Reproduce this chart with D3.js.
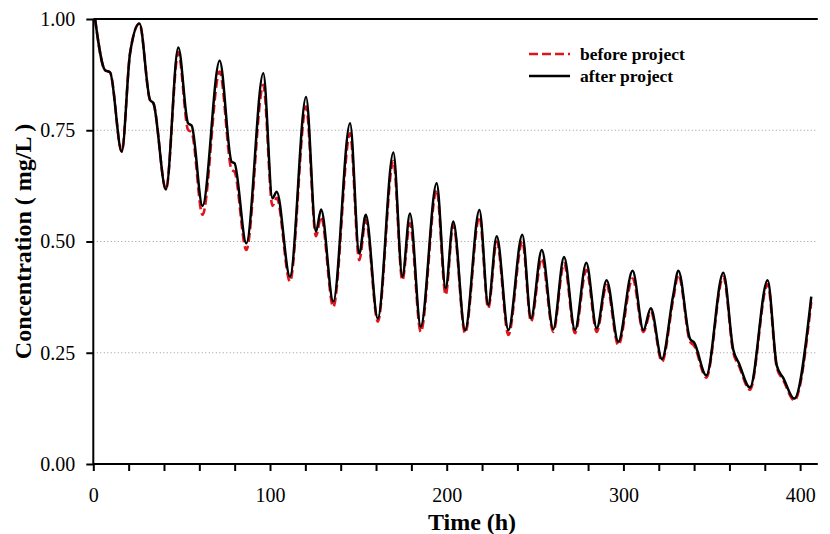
<!DOCTYPE html>
<meta charset="utf-8">
<style>
    body { margin: 0; background: #fff; }
    svg { font-family: "Liberation Serif", "Times New Roman", serif; }
    .axis path, .axis line { stroke: #000; stroke-width: 2; }
    .axis text { font-family: "Liberation Serif", "Times New Roman", serif; font-size: 20px; fill: #000; }
    .grid line { stroke: #999; stroke-width: 1; stroke-dasharray: 1,2.5; }
    .title { font-size: 24px; font-weight: bold; }
    .legend text { font-size: 17.5px; font-weight: bold; }
</style>
<svg width="830" height="534"></svg>
<script src="https://d3js.org/d3.v7.min.js"></script>
<script>

    // time (h) of the traced points
    var hours = [1, 6.6, 9.5, 16.1, 20.8, 26.1, 32.1, 34.0, 41.1, 48.1,
        53.6, 55.7, 61.8, 71.5, 78.3, 79.9, 86.6, 96.2, 101.4, 103.8,
        111.3, 120.4, 126.0, 128.9, 135.8, 145.3, 150.5, 154.2, 161.0, 169.8,
        174.9, 179.2, 185.3, 194.3, 199.4, 203.7, 210.4, 218.5, 223.5, 228.3,
        234.9, 242.8, 247.7, 253.8, 260.3, 266.4, 272.6, 279.0, 284.9, 290.5,
        297.1, 305.2, 311.3, 315.5, 321.8, 328.2, 331.1, 337.7, 340.0, 346.9,
        356.5, 362.2, 365.4, 371.6, 381.6, 386.8, 390.5, 396.7, 406.3];

    var afterProject = [1.00, 0.885, 0.880, 0.702, 0.923, 0.990, 0.818, 0.811, 0.617, 0.936,
        0.766, 0.760, 0.580, 0.906, 0.679, 0.676, 0.496, 0.878, 0.597, 0.612,
        0.421, 0.825, 0.522, 0.572, 0.365, 0.766, 0.473, 0.560, 0.327, 0.700,
        0.421, 0.563, 0.309, 0.631, 0.395, 0.545, 0.301, 0.571, 0.357, 0.512,
        0.301, 0.515, 0.327, 0.481, 0.303, 0.465, 0.301, 0.452, 0.305, 0.413,
        0.275, 0.434, 0.301, 0.350, 0.236, 0.380, 0.434, 0.281, 0.273, 0.199,
        0.430, 0.256, 0.226, 0.172, 0.413, 0.221, 0.193, 0.147, 0.376];

    var beforeProject = [1.00, 0.885, 0.880, 0.702, 0.923, 0.990, 0.818, 0.811, 0.617, 0.925,
        0.751, 0.745, 0.560, 0.882, 0.661, 0.657, 0.481, 0.852, 0.580, 0.598,
        0.410, 0.803, 0.512, 0.556, 0.353, 0.743, 0.458, 0.548, 0.320, 0.681,
        0.413, 0.541, 0.297, 0.616, 0.380, 0.538, 0.294, 0.556, 0.350, 0.500,
        0.290, 0.500, 0.320, 0.462, 0.297, 0.451, 0.294, 0.436, 0.297, 0.402,
        0.267, 0.417, 0.297, 0.342, 0.230, 0.370, 0.425, 0.275, 0.266, 0.194,
        0.421, 0.250, 0.220, 0.167, 0.404, 0.216, 0.188, 0.143, 0.364];

    var xTicks = d3.range(0, 401, 20);
    var yTicks = [0, 0.25, 0.5, 0.75, 1];
    var gridTicks = [0.25, 0.5, 0.75];

    var svg = d3.select("svg"),
        plotLeft = 93.3, plotRight = 817.8, plotTop = 19, plotBottom = 464;

    var x = d3.scaleLinear().domain([0, 410]).range([plotLeft, plotRight]);
    var y = d3.scaleLinear().domain([0, 1]).range([plotBottom, plotTop]);

    // dotted grid
    svg.append("g").attr("class", "grid")
        .selectAll("line").data(gridTicks).enter().append("line")
        .attr("x1", plotLeft).attr("x2", plotRight)
        .attr("y1", function(d) { return y(d); })
        .attr("y2", function(d) { return y(d); });

    var line = d3.line()
        .x(function(d) { return x(d[0]); })
        .y(function(d) { return y(d[1]); })
        .curve(d3.curveMonotoneX);

    svg.append("path")
        .datum(hours.map(function(h, i) { return [h, beforeProject[i]]; }))
        .attr("fill", "none")
        .attr("stroke", "#e0141b")
        .attr("stroke-width", 2.6)
        .attr("stroke-dasharray", "9,4")
        .attr("d", line);

    svg.append("path")
        .datum(hours.map(function(h, i) { return [h, afterProject[i]]; }))
        .attr("fill", "none")
        .attr("stroke", "#000")
        .attr("stroke-width", 2.5)
        .attr("d", line);

    // top frame line
    svg.append("line")
        .attr("x1", plotLeft).attr("x2", plotRight)
        .attr("y1", y(1)).attr("y2", y(1))
        .attr("stroke", "#000").attr("stroke-width", 2);

    var xAxis = svg.append("g").attr("class", "axis")
        .attr("transform", "translate(0," + plotBottom + ")")
        .call(d3.axisBottom(x).tickValues(xTicks).tickSize(7).tickPadding(17)
            .tickFormat(function(d) { return d % 100 === 0 ? d : ""; }));
    xAxis.select(".domain").attr("d", "M" + plotLeft + ",0H" + plotRight);

    var yAxis = svg.append("g").attr("class", "axis")
        .attr("transform", "translate(" + plotLeft + ",0)")
        .call(d3.axisLeft(y).tickValues(yTicks).tickSize(7).tickPadding(11)
            .tickFormat(d3.format(".2f")));
    yAxis.select(".domain").attr("d", "M0," + plotBottom + "V" + plotTop);

    svg.append("text").attr("class", "title")
        .attr("x", 472).attr("y", 530)
        .attr("text-anchor", "middle")
        .text("Time (h)");

    svg.append("text").attr("class", "title")
        .attr("transform", "translate(31," + y(0.5) + ") rotate(-90)")
        .attr("text-anchor", "middle")
        .text("Concentration ( mg/L )");

    // legend
    var legend = svg.append("g").attr("class", "legend");
    var items = [
        { name: "before project", color: "#e0141b", dash: "9,4", yy: 54 },
        { name: "after project", color: "#000", dash: null, yy: 76 }
    ];
    items.forEach(function(it) {
        legend.append("line")
            .attr("x1", 529).attr("x2", 570)
            .attr("y1", it.yy).attr("y2", it.yy)
            .attr("stroke", it.color).attr("stroke-width", 2.5)
            .attr("stroke-dasharray", it.dash);
        legend.append("text")
            .attr("x", 580).attr("y", it.yy + 6)
            .text(it.name);
    });

</script>
